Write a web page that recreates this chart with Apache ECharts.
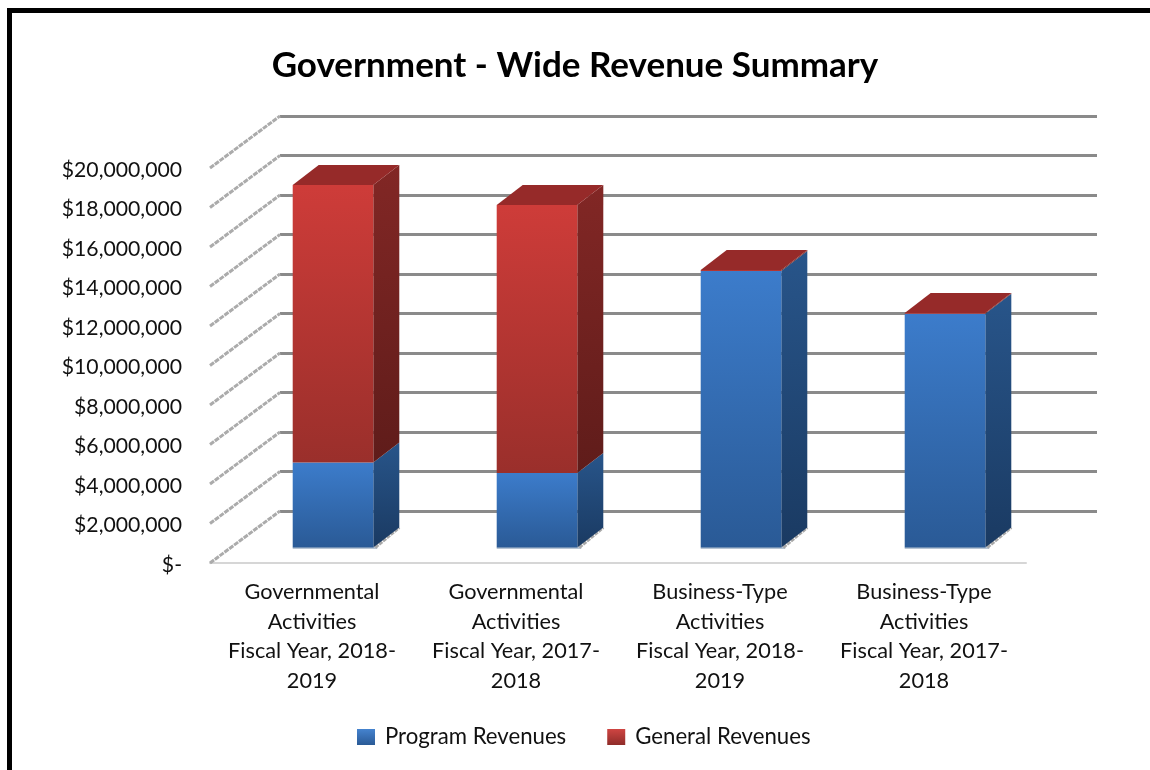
<!DOCTYPE html>
<html>
<head>
<meta charset="utf-8">
<style>
html,body{margin:0;padding:0;background:#fff}
#c{width:1150px;height:770px;filter:blur(0.45px)}
</style>
<script src="https://cdn.jsdelivr.net/npm/echarts@6/dist/echarts.min.js"></script>
</head>
<body>
<div id="c"></div>
<script>
var titleText = 'Government - Wide Revenue Summary';
var categories = [
  'Governmental\nActivities\nFiscal Year, 2018-\n2019',
  'Governmental\nActivities\nFiscal Year, 2017-\n2018',
  'Business-Type\nActivities\nFiscal Year, 2018-\n2019',
  'Business-Type\nActivities\nFiscal Year, 2017-\n2018'
];
var programRevenues = [4300000, 3770000, 14000000, 11830000];
var generalRevenues = [14050000, 13570000, 50000, 40000];
var yTicks = [0, 2000000, 4000000, 6000000, 8000000, 10000000, 12000000, 14000000, 16000000, 18000000, 20000000];
var FONT = 'Lato';
var WALL = [70, -52];      // floor depth of the 3D box, px
var BAR_SHIFT = [21, -15.5]; // where the bars stand on the floor, px
var BAR_DEPTH = [26, -20]; // bar depth, px
var BAR_RATIO = 0.395;

function fmt(v) {
  return v === 0 ? '{a|$-}' : '{a|$' + String(v).replace(/\B(?=(\d{3})+$)/g, ',') + '}';
}
function grad(a, b) {
  return new echarts.graphic.LinearGradient(0, 0, 0, 1, [{offset: 0, color: a}, {offset: 1, color: b}]);
}
function poly(points, fill, z) {
  return {type: 'polygon', shape: {points: points}, style: {fill: fill}, z2: z || 0};
}
function barRenderer(c) {
  return function (params, api) {
    var i = api.value(0), lo = api.coord([i, api.value(1)]), hi = api.coord([i, api.value(2)]);
    var w = api.size([1, 0])[0] * BAR_RATIO;
    var x0 = lo[0] - w / 2 + BAR_SHIFT[0], x1 = x0 + w;
    var yb = lo[1] + BAR_SHIFT[1], yt = hi[1] + BAR_SHIFT[1];
    var dx = BAR_DEPTH[0], dy = BAR_DEPTH[1];
    var kids = [];
    if (c.shadow) {
      kids.push({type: 'line', shape: {x1: x0, y1: yb + 0.5, x2: x1 + 4, y2: yb + 0.5}, style: {stroke: '#9fb0c4', lineWidth: 1.5}});
      kids.push({type: 'line', shape: {x1: x1 + 2, y1: yb, x2: x1 + dx, y2: yb + dy}, style: {stroke: '#a8a8a8', lineWidth: 3, lineDash: [4, 1]}});
    }
    kids.push(poly([[x1, yt], [x1 + dx, yt + dy], [x1 + dx, yb + dy], [x1, yb]], grad(c.side[0], c.side[1])));
    kids.push({type: 'rect', shape: {x: x0, y: yt, width: w, height: yb - yt}, style: {fill: grad(c.front[0], c.front[1])}});
    if (c.top) {
      kids.push(poly([[x0, yt], [x0 + dx, yt + dy], [x1 + dx, yt + dy], [x1, yt]], c.top));
    }
    return {type: 'group', children: kids};
  };
}
var chart = echarts.init(document.getElementById('c'), null, {renderer: 'canvas'});
chart.setOption({
  backgroundColor: '#fff',
  animation: false,
  title: {
    text: titleText, left: 'center', top: 43,
    textStyle: {fontFamily: FONT, fontSize: 35, fontWeight: 'bold', color: '#000'}
  },
  graphic: [
    {type: 'rect', shape: {x: 7, y: 8, width: 1143, height: 5}, style: {fill: '#000'}, silent: true},
    {type: 'rect', shape: {x: 7, y: 8, width: 5, height: 762}, style: {fill: '#000'}, silent: true}
  ],
  legend: {
    left: 352, top: 721, itemWidth: 18, itemHeight: 16, itemGap: 41, icon: 'rect',
    selectedMode: false,
    data: ['Program Revenues', 'General Revenues'],
    textStyle: {fontFamily: FONT, fontSize: 22.2, color: '#111', padding: [0, 0, 0, 5]}
  },
  grid: [
    {left: 210, width: 816, top: 168, height: 395},
    {left: 210 + WALL[0], width: 817, top: 168 + WALL[1], height: 395}
  ],
  xAxis: [
    {type: 'category', gridIndex: 0, data: categories,
     axisTick: {show: false},
     axisLine: {lineStyle: {color: '#d6d6d6', width: 2}},
     axisLabel: {fontFamily: FONT, fontSize: 21.7, color: '#111', lineHeight: 29.7, margin: 14, interval: 0}},
    {type: 'value', gridIndex: 1, min: 0, max: 1, show: false}
  ],
  yAxis: [
    {type: 'value', gridIndex: 0, min: 0, max: 20000000, interval: 2000000,
     splitLine: {show: false}, axisLine: {show: false}, axisTick: {show: false},
     axisLabel: {margin: 28, formatter: fmt,
       rich: {a: {fontFamily: FONT, fontSize: 21.2, color: '#111', padding: [4, 0, 0, 0]}}}},
    {type: 'value', gridIndex: 1, min: 0, max: 20000000, interval: 2000000,
     splitLine: {show: true, lineStyle: {color: '#8a8a8a', width: 3}},
     axisLine: {show: false}, axisTick: {show: false}, axisLabel: {show: false}}
  ],
  series: [
    {
      name: 'Wall slants', type: 'custom', xAxisIndex: 0, yAxisIndex: 0, silent: true, z: 1,
      data: yTicks.map(function (v) { return [0, v]; }),
      encode: {x: 0, y: 1},
      renderItem: function (params, api) {
        var p = api.coord([0, api.value(1)]), half = api.size([1, 0])[0] / 2;
        return {type: 'line',
          shape: {x1: p[0] - half, y1: p[1], x2: p[0] - half + WALL[0], y2: p[1] + WALL[1]},
          style: {stroke: '#ababab', lineWidth: 3, lineDash: [5, 1]}};
      }
    },
    {
      name: 'Program Revenues', type: 'custom', xAxisIndex: 0, yAxisIndex: 0, z: 3,
      itemStyle: {color: grad('#4583cf', '#2a5a96')},
      data: programRevenues.map(function (v, i) { return [i, 0, v]; }),
      encode: {x: 0, y: [1, 2]},
      renderItem: barRenderer({front: ['#3c7ccb', '#2a5a96'], side: ['#28558a', '#1a3a62'], shadow: true})
    },
    {
      name: 'General Revenues', type: 'custom', xAxisIndex: 0, yAxisIndex: 0, z: 4,
      itemStyle: {color: grad('#cf4542', '#8f2c29')},
      data: generalRevenues.map(function (v, i) { return [i, programRevenues[i], programRevenues[i] + v]; }),
      encode: {x: 0, y: [1, 2]},
      renderItem: barRenderer({front: ['#ce3c39', '#9a2f2b'], side: ['#822725', '#5f1c1a'], top: '#962a29'})
    }
  ]
});
</script>
</body>
</html>
